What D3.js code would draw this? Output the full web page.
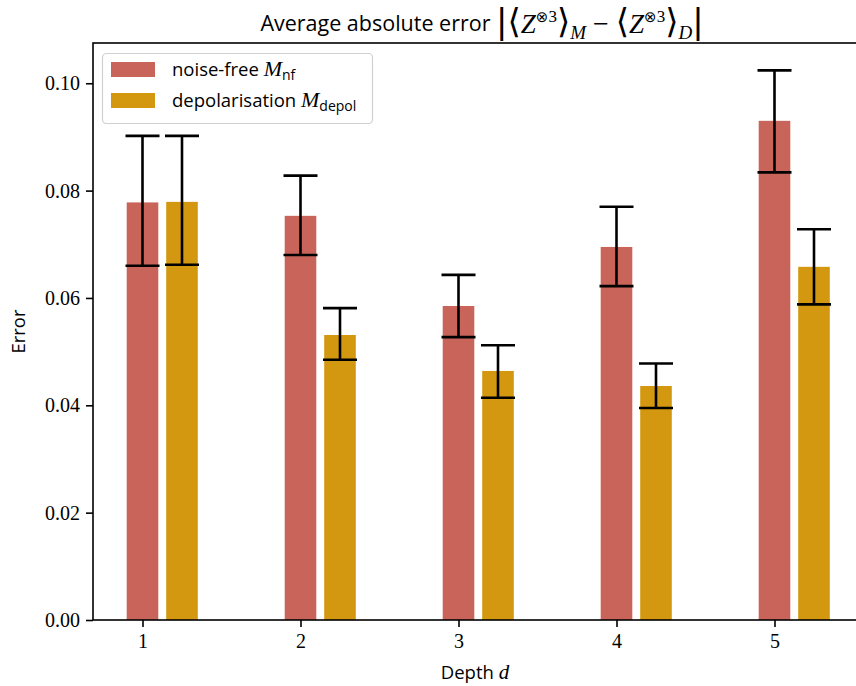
<!DOCTYPE html>
<html><head><meta charset="utf-8">
<script src="https://cdn.jsdelivr.net/npm/d3@7"></script>
<style>body{margin:0;background:#fff}svg{display:block}</style>
</head><body>
<script>
const depths = [1, 2, 3, 4, 5];
const nfMean = [0.0778, 0.0753, 0.0585, 0.0695, 0.0930];
const nfLow  = [0.0660, 0.0680, 0.0527, 0.0622, 0.0834];
const nfHigh = [0.0902, 0.0828, 0.0643, 0.0770, 0.1024];
const dpMean = [0.0779, 0.0531, 0.0464, 0.0436, 0.0658];
const dpLow  = [0.0662, 0.0485, 0.0414, 0.0395, 0.0588];
const dpHigh = [0.0902, 0.0581, 0.0512, 0.0478, 0.0728];
const yTicks = [0, 0.02, 0.04, 0.06, 0.08, 0.10];
const seriesNames = ["noise-free", "depolarisation"];
const seriesSubs = ["nf", "depol"];
const colors = ["#C9645A", "#D3980F"];

(function () {
const W = 856, H = 686;
const svg = d3.select("body").append("svg").attr("width", W).attr("height", H);
const pLeft = 93, pTop = 43, pBottom = 620;
const unit = 158;
const x = d3.scaleLinear().domain([1, 5]).range([142.5, 142.5 + 4 * unit]);
const xMax = 5.5725;
const pRight = x(xMax);
const y = d3.scaleLinear().domain([0, 0.1075]).range([pBottom, pTop]);
const barW = 0.2, offset = 0.25;

const series = [
  {mean: nfMean, low: nfLow, high: nfHigh, off: 0},
  {mean: dpMean, low: dpLow, high: dpHigh, off: offset}
];
const g = svg.append("g");
series.forEach((s, si) => {
  g.selectAll(null).data(depths).enter().append("rect")
    .attr("x", (d) => x(d + s.off - barW / 2))
    .attr("width", (d) => x(d + s.off + barW / 2) - x(d + s.off - barW / 2))
    .attr("y", (d, i) => y(s.mean[i]))
    .attr("height", (d, i) => y(0) - y(s.mean[i]))
    .attr("fill", colors[si]);
});
series.forEach((s) => {
  const eb = g.selectAll(null).data(depths).enter().append("g")
    .attr("stroke", "#000").attr("stroke-width", 2.6);
  eb.append("line").attr("x1", (d) => x(d + s.off)).attr("x2", (d) => x(d + s.off))
    .attr("y1", (d, i) => y(s.low[i])).attr("y2", (d, i) => y(s.high[i]));
  eb.append("line").attr("x1", (d) => x(d + s.off) - 17).attr("x2", (d) => x(d + s.off) + 17)
    .attr("y1", (d, i) => y(s.high[i])).attr("y2", (d, i) => y(s.high[i]));
  eb.append("line").attr("x1", (d) => x(d + s.off) - 17).attr("x2", (d) => x(d + s.off) + 17)
    .attr("y1", (d, i) => y(s.low[i])).attr("y2", (d, i) => y(s.low[i]));
});

svg.append("rect").attr("x", pLeft).attr("y", pTop).attr("width", pRight - pLeft).attr("height", pBottom - pTop)
  .attr("fill", "none").attr("stroke", "#000").attr("stroke-width", 1.6);

const serif = "'Liberation Serif','DejaVu Serif',serif";
const sans = "'Open Sans','DejaVu Sans',sans-serif";

const xAxis = svg.append("g").attr("transform", `translate(0,${pBottom})`)
  .call(d3.axisBottom(x).tickValues(depths).tickFormat(d3.format("d")).tickSize(7).tickPadding(7));
xAxis.select(".domain").remove();
xAxis.selectAll("line").attr("stroke-width", 1.6);
xAxis.selectAll("text").attr("font-family", serif).attr("font-size", 20).attr("fill", "#000");

const yAxis = svg.append("g").attr("transform", `translate(${pLeft},0)`)
  .call(d3.axisLeft(y).tickValues(yTicks).tickFormat(d3.format(".2f")).tickSize(7).tickPadding(6));
yAxis.select(".domain").remove();
yAxis.selectAll("line").attr("stroke-width", 1.6);
yAxis.selectAll("text").attr("font-family", serif).attr("font-size", 20).attr("fill", "#000");

const xl = svg.append("text").attr("x", (pLeft + pRight) / 2 - 4).attr("y", 679)
  .attr("text-anchor", "middle").attr("font-family", sans).attr("font-size", 18.5);
xl.append("tspan").text("Depth ");
xl.append("tspan").attr("font-family", serif).attr("font-style", "italic").attr("font-size", 21).text("d");

svg.append("text").attr("transform", `translate(25,${(pTop + pBottom) / 2}) rotate(-90)`)
  .attr("text-anchor", "middle").attr("font-family", sans).attr("font-size", 18.5).text("Error");

const t = svg.append("text").attr("x", 482).attr("y", 31).attr("text-anchor", "middle")
  .attr("font-family", sans).attr("font-size", 21.5);
t.append("tspan").text("Average absolute error ");
const m = (txt, opts = {}) => {
  const ts = t.append("tspan").text(txt).attr("font-family", opts.fam || serif);
  if (opts.italic) ts.attr("font-style", "italic");
  if (opts.size) ts.attr("font-size", opts.size);
  if (opts.dy !== undefined) ts.attr("dy", opts.dy);
  return ts;
};
const sym = "'DejaVu Sans',sans-serif";
m("|", {size: 34, fam: sym, dy: 2});
m("⟨", {size: 34, fam: sym});
m("Z", {italic: true, size: 27});
m("⊗", {size: 15, fam: sym, dy: -11});
m("3", {size: 17});
m("⟩", {size: 34, fam: sym, dy: 11});
m("M", {italic: true, size: 19, dy: 6});
m(" − ", {size: 28, dy: -6});
m("⟨", {size: 34, fam: sym});
m("Z", {italic: true, size: 27});
m("⊗", {size: 15, fam: sym, dy: -11});
m("3", {size: 17});
m("⟩", {size: 34, fam: sym, dy: 11});
m("D", {italic: true, size: 19, dy: 6});
m("|", {size: 34, fam: sym, dy: -6});

const lg = svg.append("g");
lg.append("rect").attr("x", 102.5).attr("y", 53.5).attr("width", 270).attr("height", 70).attr("rx", 4)
  .attr("fill", "#fff").attr("fill-opacity", 0.8).attr("stroke", "#d0d0d0").attr("stroke-width", 1.2);
seriesNames.forEach((name, i) => {
  const yy = 62 + i * 31;
  lg.append("rect").attr("x", 111).attr("y", yy).attr("width", 44).attr("height", 15).attr("fill", colors[i]);
  const tx = lg.append("text").attr("x", 172).attr("y", yy + 14).attr("font-family", sans).attr("font-size", 18.5);
  tx.append("tspan").text(name + " ");
  tx.append("tspan").attr("font-family", serif).attr("font-style", "italic").attr("font-size", 22).text("M");
  tx.append("tspan").attr("font-size", 14).attr("dy", 4).text(seriesSubs[i]);
});
})();
</script>
</body></html>
